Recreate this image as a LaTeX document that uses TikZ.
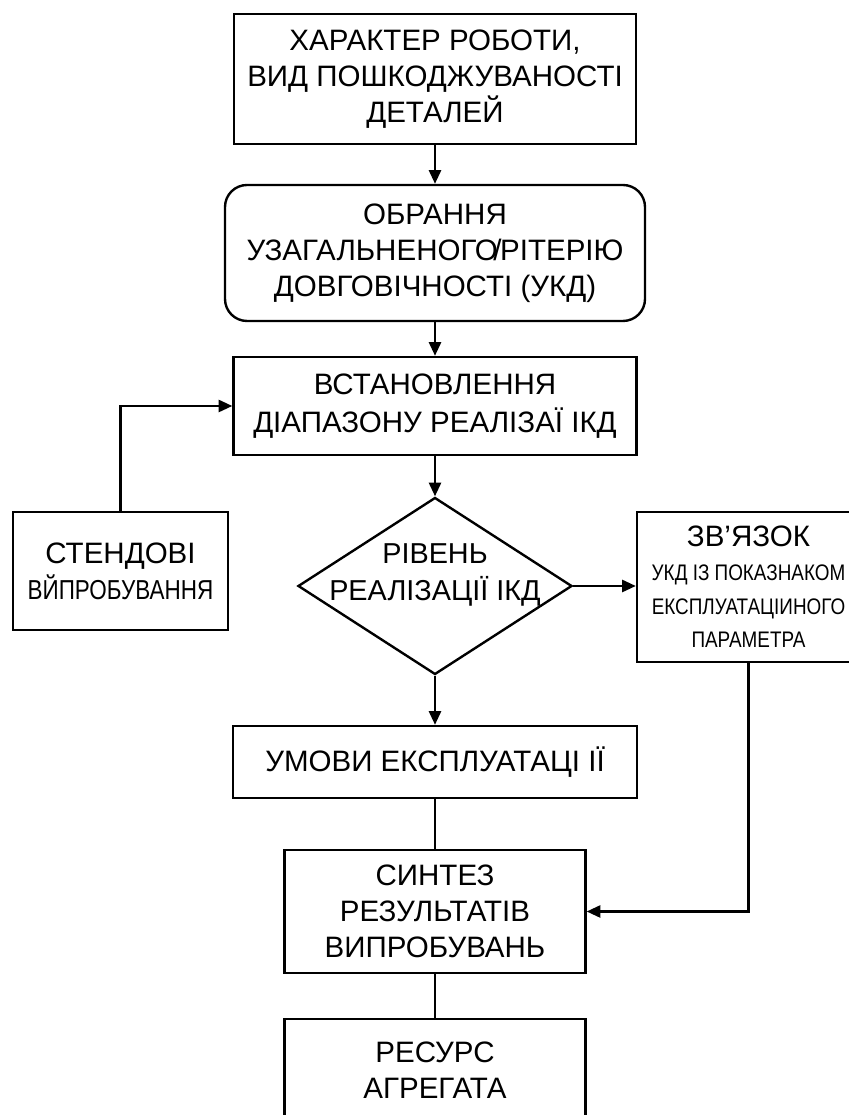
\documentclass[tikz,border=0pt]{standalone}
\usepackage{fontspec}
\setmainfont{Liberation Sans}
\newfontfamily\narrowfont[FakeStretch=0.82]{Liberation Sans}
\newfontfamily\slimfont[FakeStretch=0.84]{Liberation Sans}
\usepackage{tikz}
\usetikzlibrary{positioning,arrows.meta,calc,shapes.geometric}

\newcommand{\boxfont}{\fontsize{21}{25.5}\selectfont}
\newcommand{\midfont}{\narrowfont\fontsize{19.5}{25.5}\selectfont}
\newcommand{\smallfont}{\slimfont\fontsize{16}{24}\selectfont}

\begin{document}
\begin{tikzpicture}[
  block/.style={draw, line width=1.7pt, align=center, inner sep=0pt, font=\boxfont},
  rblock/.style={block, rounded corners=0.55cm},
  decision/.style={draw, diamond, line width=1.7pt, inner sep=0pt},
  flow/.style={line width=1.7pt},
  >={Triangle[length=3.4mm,width=3mm]}
]
  \useasboundingbox (0,0) rectangle (21.225,27.875);
  \clip (0,0) rectangle (21.225,27.875);

  % Main column
  \node[block, minimum width=10.05cm, minimum height=3.25cm] (work) at (10.875,25.9)
    {ХАРАКТЕР РОБОТИ,\\ВИД ПОШКОДЖУВАНОСТІ\\ДЕТАЛЕЙ};
  \node[rblock, minimum width=10.5cm, minimum height=3.4cm] (crit) at (10.875,21.55)
    {ОБРАННЯ\\УЗАГАЛЬНЕНОГО\kern-.15em/\kern-.05emРІТЕРІЮ\\ДОВГОВІЧНОСТІ (УКД)};
  \node[block, minimum width=10.075cm, minimum height=2.45cm,
        font=\fontsize{21}{27}\selectfont] (range) at (10.875,17.725)
    {ВСТАНОВЛЕННЯ\\ДІАПАЗОНУ РЕАЛІЗАЇ ІКД};
  \node[decision, minimum width=6.85cm, minimum height=4.425cm] (level) at (10.875,13.225) {};
  \node[align=center, font=\fontsize{20.5}{26.3}\selectfont] (leveltxt)
    at ([yshift=2.75mm]level.center) {РІВЕНЬ\\РЕАЛІЗАЦІЇ ІКД};
  \node[block, minimum width=10.1cm, minimum height=1.8cm] (cond) at (10.875,8.825)
    {УМОВИ ЕКСПЛУАТАЦІ ІЇ};
  \node[block, minimum width=7.525cm, minimum height=3.075cm] (synth) at (10.875,5.0875)
    {СИНТЕЗ\\РЕЗУЛЬТАТІВ\\ВИПРОБУВАНЬ};
  \node[block, minimum width=7.525cm, minimum height=2.55cm] (res) at (10.875,1.125)
    {РЕСУРС\\АГРЕГАТА};

  % Side blocks
  \node[block, minimum width=5.375cm, minimum height=2.95cm, font=\midfont] (stand) at (3.0125,13.6)
    {{\boxfont\rmfamily СТЕНДОВІ}\\ВЙПРОБУВАННЯ};
  \node[block, minimum width=5.575cm, minimum height=3.75cm, font=\smallfont] (link) at (18.7125,13.2)
    {{\boxfont\rmfamily ЗВ’ЯЗОК}\\УКД ІЗ ПОКАЗНАКОМ\\ЕКСПЛУАТАЦІИНОГО\\ПАРАМЕТРА};

  % Connectors
  \draw[flow, ->] (work) -- (crit);
  \draw[flow, ->] (crit) -- (range);
  \draw[flow, ->] (range) -- (level);
  \draw[flow, ->] (stand) |- (range);
  \draw[flow, ->] (level.east) -- (level.east -| link.west);
  \draw[flow, ->] (level) -- (cond);
  \draw[flow] (cond) -- (synth);
  \draw[flow, ->] (link) |- (synth);
  \draw[flow] (synth) -- (res);
\end{tikzpicture}
\end{document}
